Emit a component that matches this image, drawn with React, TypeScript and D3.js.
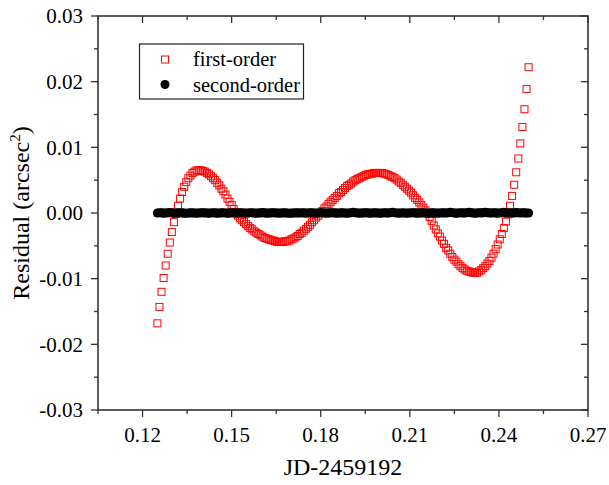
import React from "react";
import * as d3 from "d3";

// Observation times (JD-2459192), shared by both residual series
const jd = [
  0.12500,0.12569,0.12639,0.12708,0.12778,0.12847,0.12917,0.12986,0.13056,0.13125,0.13194,0.13264,0.13333,0.13403,0.13472,0.13542,0.13611,0.13681,0.13750,0.13819,0.13889,0.13958,0.14028,0.14097,0.14167,0.14236,0.14306,0.14375,0.14444,0.14514,0.14583,0.14653,0.14722,0.14792,0.14861,0.14931,
  0.15000,0.15069,0.15139,0.15208,0.15278,0.15347,0.15417,0.15486,0.15556,0.15625,0.15694,0.15764,0.15833,0.15903,0.15972,0.16042,0.16111,0.16181,0.16250,0.16319,0.16389,0.16458,0.16528,0.16597,0.16667,0.16736,0.16806,0.16875,0.16944,0.17014,0.17083,0.17153,0.17222,0.17292,0.17361,0.17431,
  0.17500,0.17569,0.17639,0.17708,0.17778,0.17847,0.17917,0.17986,0.18056,0.18125,0.18194,0.18264,0.18333,0.18403,0.18472,0.18542,0.18611,0.18681,0.18750,0.18819,0.18889,0.18958,0.19028,0.19097,0.19167,0.19236,0.19306,0.19375,0.19444,0.19514,0.19583,0.19653,0.19722,0.19792,0.19861,0.19931,
  0.20000,0.20069,0.20139,0.20208,0.20278,0.20347,0.20417,0.20486,0.20556,0.20625,0.20694,0.20764,0.20833,0.20903,0.20972,0.21042,0.21111,0.21181,0.21250,0.21319,0.21389,0.21458,0.21528,0.21597,0.21667,0.21736,0.21806,0.21875,0.21944,0.22014,0.22083,0.22153,0.22222,0.22292,0.22361,0.22431,
  0.22500,0.22569,0.22639,0.22708,0.22778,0.22847,0.22917,0.22986,0.23056,0.23125,0.23194,0.23264,0.23333,0.23403,0.23472,0.23542,0.23611,0.23681,0.23750,0.23819,0.23889,0.23958,0.24028,0.24097,0.24167,0.24236,0.24306,0.24375,0.24444,0.24514,0.24583,0.24653,0.24722,0.24792,0.24861,0.24931,
  0.25000,
];

// First-order fit residuals (arcsec^2)
const firstOrder = [
  -0.0168,-0.0143,-0.0120,-0.0099,-0.0080,-0.0062,-0.0045,-0.0029,-0.0014,-0.0001,0.0011,0.0022,0.0032,0.0040,0.0047,0.0053,0.0057,0.0061,0.0063,0.0065,0.0065,
  0.0065,0.0064,0.0063,0.0061,0.0059,0.0056,0.0053,0.0050,0.0046,0.0042,0.0037,0.0033,0.0028,0.0022,0.0017,0.0012,0.0006,0.0001,
  -0.0004,-0.0008,-0.0011,-0.0014,-0.0017,-0.0020,-0.0023,-0.0025,-0.0028,-0.0030,-0.0032,-0.0034,-0.0036,-0.0038,-0.0039,-0.0040,-0.0041,-0.0042,-0.0043,-0.0044,-0.0044,-0.0044,
  -0.0044,-0.0043,-0.0043,-0.0042,-0.0040,-0.0039,-0.0037,-0.0035,-0.0032,-0.0030,-0.0027,-0.0024,-0.0021,-0.0018,-0.0014,-0.0011,-0.0007,-0.0004,0.0000,
  0.0003,0.0007,0.0010,0.0014,0.0017,0.0020,0.0023,0.0026,0.0030,0.0032,0.0035,0.0038,0.0041,0.0043,0.0045,0.0048,0.0050,0.0052,0.0053,0.0055,0.0056,0.0058,0.0059,0.0059,0.0060,0.0061,0.0061,0.0061,
  0.0061,0.0061,0.0060,0.0059,0.0058,0.0056,0.0055,0.0053,0.0051,0.0048,0.0046,0.0043,0.0040,0.0037,0.0034,0.0031,0.0027,0.0023,0.0020,0.0016,0.0012,0.0008,0.0004,-0.0001,
  -0.0006,-0.0012,-0.0019,-0.0025,-0.0031,-0.0036,-0.0042,-0.0047,-0.0053,-0.0057,-0.0062,-0.0067,-0.0071,-0.0074,-0.0078,-0.0081,-0.0084,-0.0086,-0.0088,-0.0089,-0.0090,-0.0091,-0.0091,
  -0.0091,-0.0089,-0.0087,-0.0084,-0.0081,-0.0077,-0.0073,-0.0068,-0.0062,-0.0055,-0.0048,-0.0040,-0.0032,-0.0023,-0.0013,-0.0002,0.0011,0.0026,0.0043,0.0062,0.0083,0.0106,0.0131,0.0158,0.0189,0.0222,
];

// Second-order fit residuals (arcsec^2)
const secondOrder = [
  0.00000,0.00004,0.00002,-0.00003,0.00000,0.00003,0.00005,0.00002,-0.00002,0.00000,0.00001,0.00004,0.00001,-0.00003,-0.00004,0.00000,0.00003,0.00001,0.00000,-0.00002,
  0.00000,0.00003,0.00004,0.00001,0.00000,-0.00003,0.00000,0.00004,0.00001,-0.00002,0.00000,0.00001,0.00004,0.00000,-0.00003,0.00000,0.00003,0.00001,0.00000,-0.00003,
  0.00003,0.00001,0.00000,-0.00002,0.00000,0.00004,0.00002,0.00000,-0.00003,0.00000,0.00003,0.00005,0.00001,-0.00002,0.00000,0.00001,0.00004,0.00002,0.00000,-0.00003,
  0.00000,0.00003,0.00001,0.00000,-0.00004,-0.00002,0.00000,0.00003,0.00001,0.00000,0.00004,0.00001,-0.00003,0.00000,0.00003,0.00001,0.00000,-0.00002,0.00000,0.00004,
  0.00003,0.00000,-0.00003,0.00000,0.00001,0.00004,0.00001,-0.00002,0.00000,0.00003,0.00001,0.00000,-0.00003,0.00000,0.00004,0.00008,0.00004,0.00000,-0.00002,0.00000,
  0.00001,0.00004,0.00001,-0.00003,0.00000,0.00003,0.00001,0.00000,-0.00002,0.00000,0.00004,0.00001,0.00000,0.00004,0.00008,0.00004,0.00000,-0.00003,0.00000,0.00003,
  0.00000,-0.00002,0.00000,0.00003,0.00004,0.00001,-0.00003,0.00000,0.00001,0.00004,0.00000,-0.00003,0.00000,0.00004,0.00001,0.00000,-0.00002,0.00000,0.00003,0.00001,
  0.00000,0.00004,0.00008,0.00004,0.00000,-0.00003,0.00000,0.00004,0.00001,0.00000,0.00004,0.00009,0.00005,0.00000,-0.00002,0.00000,0.00004,0.00001,0.00005,0.00009,
  0.00005,0.00001,0.00000,0.00004,0.00001,-0.00002,0.00000,0.00004,0.00008,0.00004,0.00000,0.00004,0.00001,0.00000,0.00005,0.00004,0.00000,0.00004,0.00001,0.00000,
  0.00000,
];

const xTicks = [0.12, 0.15, 0.18, 0.21, 0.24, 0.27];
const xMinorTicks = [0.105, 0.135, 0.165, 0.195, 0.225, 0.255];
const yTicks = [-0.03, -0.02, -0.01, 0.0, 0.01, 0.02, 0.03];
const yMinorTicks = [-0.025, -0.015, -0.005, 0.005, 0.015, 0.025];
const xTitle = "JD-2459192";
const yTitle = "Residual (arcsec";
const yTitleSup = "2";
const seriesNames = ["first-order", "second-order"];

const FONT = "'Liberation Serif', 'Times New Roman', Times, serif";

export default function App() {
  const W = 609;
  const H = 485;
  const L = 98, R = 588, T = 16, B = 410;
  const x = d3.scaleLinear().domain([0.105, 0.27]).range([L, R]);
  const y = d3.scaleLinear().domain([-0.03, 0.03]).range([B, T]);
  const axisColor = "#333";
  const fmt = (v: number) => (Math.abs(v) < 1e-9 ? "0.00" : v.toFixed(2));

  const majorLen = 7;
  const minorLen = 4;

  return (
    <svg
      width={W}
      height={H}
      viewBox={`0 0 ${W} ${H}`}
      style={{ position: "absolute", left: 0, top: 0, background: "#fff" }}
      fontFamily={FONT}
    >
      <rect x={0} y={0} width={W} height={H} fill="#fff" />

      {/* first-order: open red squares */}
      <g>
        {jd.map((t, i) => (
          <rect
            key={"f" + i}
            x={x(t) - 3.5}
            y={y(firstOrder[i]) - 3.5}
            width={7}
            height={7}
            fill="none"
            stroke="#ff0000"
            strokeWidth={1}
          />
        ))}
      </g>
      {/* second-order: black dots */}
      <g>
        {jd.map((t, i) => (
          <circle key={"s" + i} cx={x(t)} cy={y(secondOrder[i])} r={4.6} fill="#000" />
        ))}
      </g>

      {/* frame */}
      <rect x={L} y={T} width={R - L} height={B - T} fill="none" stroke={axisColor} strokeWidth={1.6} />

      {/* x ticks */}
      {xTicks.map((v) => (
        <g key={"xt" + v}>
          <line x1={x(v)} x2={x(v)} y1={B} y2={B + majorLen} stroke={axisColor} strokeWidth={1.3} />
          <line x1={x(v)} x2={x(v)} y1={T} y2={T + majorLen} stroke={axisColor} strokeWidth={1.3} />
          <text x={x(v)} y={442} textAnchor="middle" fontSize={21} fill="#000">
            {fmt(v)}
          </text>
        </g>
      ))}
      {xMinorTicks.map((v) => (
        <g key={"xm" + v}>
          <line x1={x(v)} x2={x(v)} y1={B} y2={B + minorLen} stroke={axisColor} strokeWidth={1.3} />
          <line x1={x(v)} x2={x(v)} y1={T} y2={T + minorLen} stroke={axisColor} strokeWidth={1.3} />
        </g>
      ))}

      {/* y ticks */}
      {yTicks.map((v) => (
        <g key={"yt" + v}>
          <line x1={L - majorLen} x2={L} y1={y(v)} y2={y(v)} stroke={axisColor} strokeWidth={1.3} />
          <line x1={R - majorLen} x2={R} y1={y(v)} y2={y(v)} stroke={axisColor} strokeWidth={1.3} />
          <text x={83} y={y(v)} dy="0.35em" textAnchor="end" fontSize={21} fill="#000">
            {fmt(v)}
          </text>
        </g>
      ))}
      {yMinorTicks.map((v) => (
        <g key={"ym" + v}>
          <line x1={L - minorLen} x2={L} y1={y(v)} y2={y(v)} stroke={axisColor} strokeWidth={1.3} />
          <line x1={R - minorLen} x2={R} y1={y(v)} y2={y(v)} stroke={axisColor} strokeWidth={1.3} />
        </g>
      ))}

      {/* axis titles */}
      <text x={(L + R) / 2} y={475} textAnchor="middle" fontSize={24} fill="#000">
        {xTitle}
      </text>
      <text
        transform={`translate(29, ${(T + B) / 2}) rotate(-90)`}
        textAnchor="middle"
        fontSize={24}
        fill="#000"
      >
        {yTitle}
        <tspan fontSize={15} dy={-9}>{yTitleSup}</tspan>
        <tspan dy={9}>)</tspan>
      </text>

      {/* legend */}
      <rect x={139.5} y={44} width={164} height={55} fill="#fff" stroke="#222" strokeWidth={1.2} />
      <rect x={161.5} y={56} width={7} height={7} fill="none" stroke="#ff0000" strokeWidth={1} />
      <text x={193} y={66} fontSize={20.5} fill="#000">{seriesNames[0]}</text>
      <circle cx={165} cy={84.5} r={4.5} fill="#000" />
      <text x={193} y={91.5} fontSize={20.5} fill="#000">{seriesNames[1]}</text>
    </svg>
  );
}
